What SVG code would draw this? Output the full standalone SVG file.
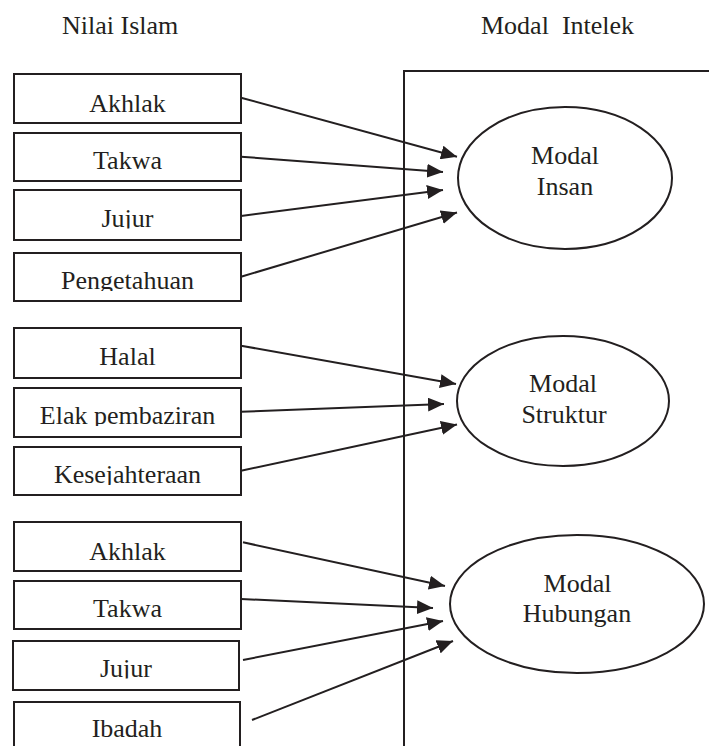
<svg xmlns="http://www.w3.org/2000/svg" width="709" height="746" viewBox="0 0 709 746">
<style>
.box{fill:#fff;stroke:#231f20;stroke-width:2}
.ell{fill:#fff;stroke:#231f20;stroke-width:2}
.t{font-size:26px;fill:#231f20;text-anchor:middle}
.title{font-size:26px;fill:#231f20}
.c{stroke:#231f20;stroke-width:2;fill:none;marker-end:url(#ah)}
.frame{stroke:#231f20;stroke-width:2;fill:none}
</style>
<defs>
<marker id="ah" markerUnits="userSpaceOnUse" markerWidth="17" markerHeight="14" refX="16" refY="7" orient="auto">
<path d="M0,0 L16,7 L0,14 Z" fill="#231f20"/>
</marker>
<clipPath id="cp-jujur1"><rect x="0" y="185" width="260" height="43.5"/></clipPath>
<clipPath id="cp-peng"><rect x="0" y="245" width="260" height="46"/></clipPath>
<clipPath id="cp-elak"><rect x="0" y="385" width="260" height="41"/></clipPath>
<clipPath id="cp-kes"><rect x="0" y="445" width="260" height="40"/></clipPath>
<clipPath id="cp-jujur2"><rect x="0" y="635" width="260" height="43.5"/></clipPath>
</defs>
<rect width="709" height="746" fill="#fff"/>

<g font-family="Liberation Serif, DejaVu Serif, serif">
<g id="titles">
<text class="title" x="62" y="34" font-size="28">Nilai Islam</text>
<text class="title" x="481" y="34" xml:space="preserve">Modal  Intelek</text>
</g>

<g id="frame">
<polyline class="frame" points="404,746 404,71 709,71"/>
</g>

<g id="connectors">
<line class="c" x1="241" y1="97.7" x2="457" y2="156.7"/>
<line class="c" x1="241" y1="156.7" x2="443" y2="172"/>
<line class="c" x1="241" y1="216" x2="443" y2="190"/>
<line class="c" x1="241" y1="276.7" x2="457" y2="212.5"/>
<line class="c" x1="241" y1="345.7" x2="456" y2="384"/>
<line class="c" x1="241" y1="411.7" x2="444" y2="404"/>
<line class="c" x1="241" y1="470.7" x2="457" y2="424.5"/>
<line class="c" x1="243" y1="542.3" x2="445" y2="586"/>
<line class="c" x1="241" y1="599" x2="433" y2="608"/>
<line class="c" x1="243" y1="660" x2="443" y2="621"/>
<line class="c" x1="252" y1="720" x2="453" y2="641"/>
</g>

<g id="n-akhlak1"><rect class="box" x="14" y="74" width="227" height="49"/><text class="t" x="127.5" y="111.7">Akhlak</text></g>
<g id="n-takwa1"><rect class="box" x="14" y="133" width="227" height="48"/><text class="t" x="127.5" y="169.3">Takwa</text></g>
<g id="n-jujur1"><rect class="box" x="14" y="190" width="227" height="50"/><text class="t" x="127.5" y="226.7" clip-path="url(#cp-jujur1)">Jujur</text></g>
<g id="n-pengetahuan"><rect class="box" x="14" y="253" width="227" height="48"/><text class="t" x="127.5" y="289.3" clip-path="url(#cp-peng)">Pengetahuan</text></g>

<g id="n-halal"><rect class="box" x="14" y="328" width="227" height="50"/><text class="t" x="127.5" y="365">Halal</text></g>
<g id="n-elak"><rect class="box" x="14" y="388" width="227" height="49"/><text class="t" x="127.5" y="424" clip-path="url(#cp-elak)">Elak pembaziran</text></g>
<g id="n-kesejahteraan"><rect class="box" x="14" y="447" width="227" height="48"/><text class="t" x="127.5" y="482.7" clip-path="url(#cp-kes)">Kesejahteraan</text></g>

<g id="n-akhlak2"><rect class="box" x="14" y="522" width="227" height="49"/><text class="t" x="127.5" y="560">Akhlak</text></g>
<g id="n-takwa2"><rect class="box" x="14" y="581" width="227" height="48"/><text class="t" x="127.5" y="617.3">Takwa</text></g>
<g id="n-jujur2"><rect class="box" x="13" y="641" width="226" height="49"/><text class="t" x="126" y="676.7" clip-path="url(#cp-jujur2)">Jujur</text></g>
<g id="n-ibadah"><rect class="box" x="14" y="702" width="226" height="60"/><text class="t" x="127" y="737.3">Ibadah</text></g>

<g id="n-insan"><ellipse class="ell" cx="565" cy="178" rx="107" ry="71"/><text class="t" x="565" y="164">Modal</text><text class="t" x="565" y="195">Insan</text></g>
<g id="n-struktur"><ellipse class="ell" cx="563" cy="401" rx="106" ry="65"/><text class="t" x="563" y="392">Modal</text><text class="t" x="564" y="422.7">Struktur</text></g>
<g id="n-hubungan"><ellipse class="ell" cx="577" cy="604" rx="127" ry="69"/><text class="t" x="577.5" y="591.7">Modal</text><text class="t" x="577" y="621.7">Hubungan</text></g>
</g>
</svg>
